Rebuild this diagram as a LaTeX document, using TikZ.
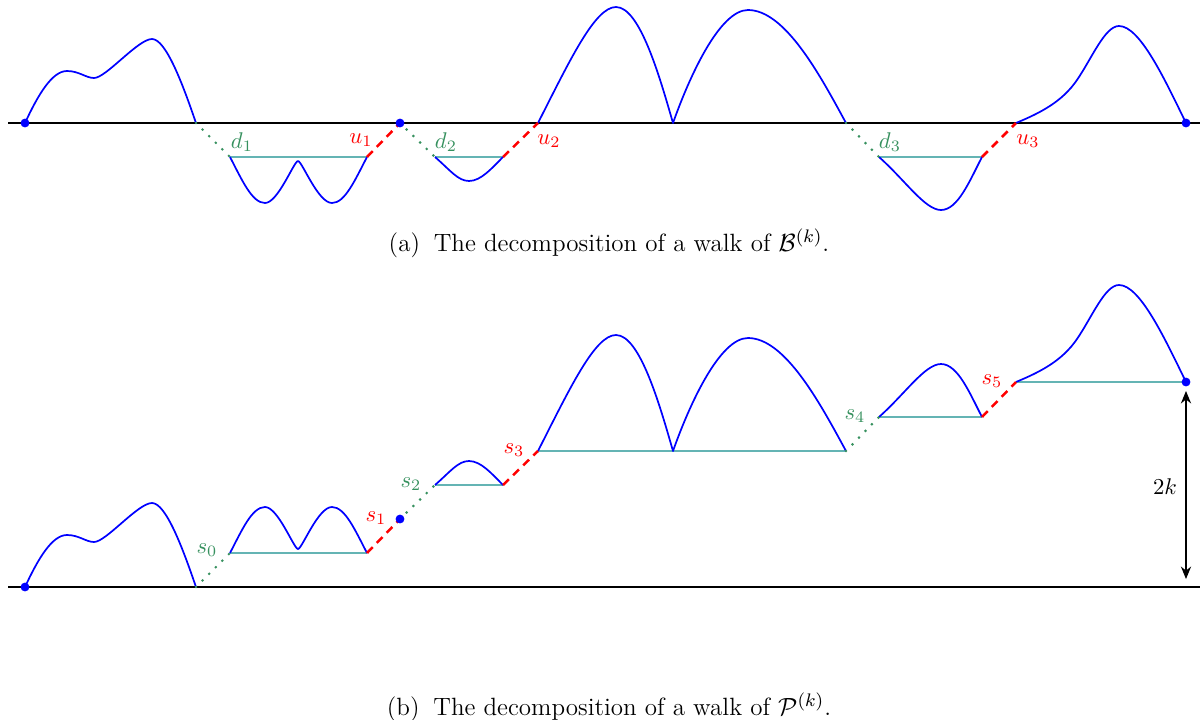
\documentclass[tikz,border=0pt]{standalone}
\usetikzlibrary{arrows.meta}
\definecolor{wblue}{rgb}{0,0,1}
\definecolor{wgreen}{RGB}{55,145,95}
\definecolor{wcyan}{RGB}{100,180,180}
\definecolor{wred}{rgb}{1,0,0}
\newcommand\excA{(25,123) .. controls (38,95) and (52,71) .. (67,71) .. controls (79,71) and (86,78) .. (94,78) .. controls (106,78) and (138,39) .. (152,39) .. controls (166,39) and (183,85) .. (196,123)}
\newcommand\excW{(230,157) .. controls (242,180) and (252,203) .. (265,203) .. controls (278,203) and (294,161) .. (298,161) .. controls (302,161) and (318,203) .. (332,203) .. controls (345,203) and (355,180) .. (367,157)}
\newcommand\excV{(435,157) .. controls (450,170) and (458,181) .. (469,181) .. controls (481,181) and (492,168) .. (503,157)}
\newcommand\excM{(538,123) .. controls (570,60) and (595,7) .. (616,7) .. controls (640,7) and (660,78) .. (673,123) .. controls (690,75) and (720,10) .. (748,10) .. controls (785,10) and (820,75) .. (846,123)}
\newcommand\excU{(879,157) .. controls (905,180) and (925,210) .. (941,210) .. controls (958,210) and (970,180) .. (982,157)}
\newcommand\excL{(1016,123) .. controls (1040,113) and (1062,102) .. (1077,80) .. controls (1092,58) and (1105,26) .. (1119,26) .. controls (1140,26) and (1165,80) .. (1186,123)}
\begin{document}
\begin{tikzpicture}[x=0.44pt,y=-0.44pt,
  walk/.style={wblue,line width=0.75pt,line join=round},
  axis/.style={black,line width=1.1pt},
  level/.style={wcyan,line width=0.8pt},
  downstep/.style={wgreen,line width=1.3pt,line cap=round,dash pattern=on 0pt off 4.1pt},
  upstep/.style={wred,line width=1.1pt,dash pattern=on 3.6pt off 2.6pt},
  glab/.style={text=wgreen,inner sep=0pt},
  rlab/.style={text=wred,inner sep=0pt},
  wdot/.style={circle,fill=wblue,inner sep=0pt,minimum size=3.9pt},
  captext/.style={inner sep=0pt,font=\fontsize{11}{13}\selectfont}]
\useasboundingbox (0,0) rectangle (1203,720);
% ---------- top panel ----------
\coordinate (tl) at (8,123); \coordinate (tr) at (1200,123);
\coordinate (a0) at (25,123); \coordinate (a1) at (196,123);
\coordinate (a2) at (230,157); \coordinate (a3) at (367,157);
\coordinate (a4) at (400,123); \coordinate (a5) at (435,157);
\coordinate (a6) at (503,157); \coordinate (a7) at (538,123);
\coordinate (a8) at (846,123); \coordinate (a9) at (879,157);
\coordinate (a10) at (982,157); \coordinate (a11) at (1016,123);
\coordinate (a12) at (1186,123);
\draw[axis] (tl) -- (tr);
\draw[level] (a2) -- (a3);
\draw[level] (a5) -- (a6);
\draw[level] (a9) -- (a10);
\draw[walk] \excA;
\draw[walk] \excW;
\draw[walk] \excV;
\draw[walk] \excM;
\draw[walk] \excU;
\draw[walk] \excL;
\draw[downstep] (a1) -- (a2);
\draw[downstep] (a4) -- (a5);
\draw[downstep] (a8) -- (a9);
\draw[upstep] (a3) -- (a4);
\draw[upstep] (a6) -- (a7);
\draw[upstep] (a10) -- (a11);
\node[wdot] (p0) at (a0) {};
\node[wdot] (p1) at (a4) {};
\node[wdot] (p2) at (a12) {};
\node[glab] (d1) at (242,142) {$d_1$};
\node[rlab] (u1) at (361,140) {$u_1$};
\node[glab] (d2) at (446,142) {$d_2$};
\node[rlab] (u2) at (549,141) {$u_2$};
\node[glab] (d3) at (890,142) {$d_3$};
\node[rlab] (u3) at (1028,141) {$u_3$};
\node[captext] (capa) at (609,243) {(a)\hspace{0.55em}The decomposition of a walk of $\mathcal{B}^{(k)}$.};
% ---------- bottom panel ----------
\coordinate (bl) at (8,587); \coordinate (br) at (1200,587);
\coordinate (b0) at (25,587); \coordinate (b1) at (196,587);
\coordinate (b2) at (230,553); \coordinate (b3) at (367,553);
\coordinate (b4) at (400,519); \coordinate (b5) at (435,485);
\coordinate (b6) at (503,485); \coordinate (b7) at (538,451);
\coordinate (b8) at (846,451); \coordinate (b9) at (879,417);
\coordinate (b10) at (982,417); \coordinate (b11) at (1016,382);
\coordinate (b12) at (1186,382);
\draw[axis] (bl) -- (br);
\draw[level] (b2) -- (b3);
\draw[level] (b5) -- (b6);
\draw[level] (b7) -- (b8);
\draw[level] (b9) -- (b10);
\draw[level] (b11) -- (b12);
\begin{scope}[shift={(0,464)}]
  \draw[walk] \excA;
\end{scope}
\begin{scope}[shift={(0,710)},yscale=-1]
  \draw[walk] \excW;
\end{scope}
\begin{scope}[shift={(0,642)},yscale=-1]
  \draw[walk] \excV;
\end{scope}
\begin{scope}[shift={(0,328)}]
  \draw[walk] \excM;
\end{scope}
\begin{scope}[shift={(0,574)},yscale=-1]
  \draw[walk] \excU;
\end{scope}
\begin{scope}[shift={(0,259)}]
  \draw[walk] \excL;
\end{scope}
\draw[downstep] (b1) -- (b2);
\draw[downstep] (b4) -- (b5);
\draw[downstep] (b8) -- (b9);
\draw[upstep] (b3) -- (b4);
\draw[upstep] (b6) -- (b7);
\draw[upstep] (b10) -- (b11);
\node[wdot] (q0) at (b0) {};
\node[wdot] (q1) at (b4) {};
\node[wdot] (q2) at (b12) {};
\node[glab] (s0) at (207,550) {$s_0$};
\node[rlab] (s1) at (376,518) {$s_1$};
\node[glab] (s2) at (411,484) {$s_2$};
\node[rlab] (s3) at (514,450) {$s_3$};
\node[glab] (s4) at (855,416) {$s_4$};
\node[rlab] (s5) at (992,381) {$s_5$};
\coordinate (ktop) at (1186,391);
\coordinate (kbot) at (1186,579);
\draw[{Stealth[length=5.5pt,width=4.5pt]}-{Stealth[length=5.5pt,width=4.5pt]},line width=0.5pt] (ktop) -- (kbot);
\node[inner sep=0pt] (twok) at (1165,487) {$2k$};
\node[captext] (capb) at (609,707) {(b)\hspace{0.55em}The decomposition of a walk of $\mathcal{P}^{(k)}$.};
\end{tikzpicture}
\end{document}
